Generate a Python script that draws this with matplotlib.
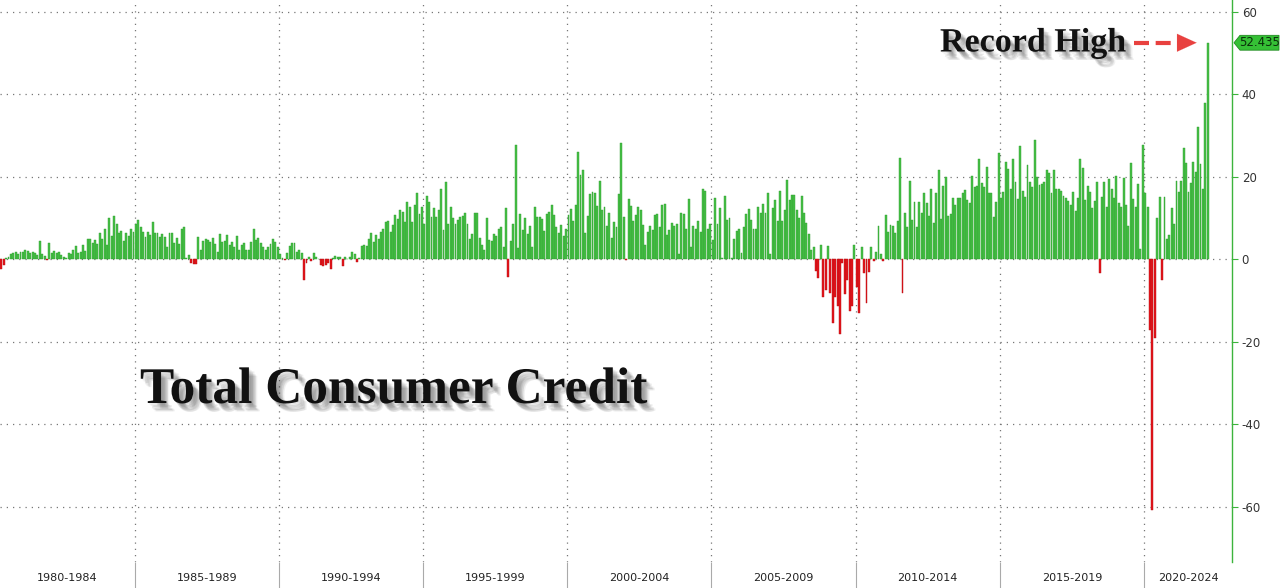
import matplotlib
matplotlib.use('Agg')
import matplotlib.pyplot as plt
import matplotlib.patheffects as pe
import matplotlib.transforms as mtransforms
from matplotlib.patches import Polygon
import numpy as np

# monthly change in total consumer credit ($bn), Jan 1980 .. Mar 2022
credit_1980_84 = [-1.2, -1.8, -2.4, -2.5, -2.5, -1.5, 0.3, 0.6, 1.2, 1.4, 1.6, 1.2,
                  1.8, 1.6, 2.2, 2.0, 1.5, 1.8, 1.4, 1.0, 4.4, 1.2, 0.8, -0.3,
                  3.8, 1.5, 2.0, 1.4, 1.8, 0.9, 0.6, 0.3, 1.4, 1.2, 2.2, 3.2,
                  1.5, 1.8, 3.4, 2.0, 4.8, 4.8, 4.0, 4.6, 3.6, 6.4, 4.8, 7.2,
                  3.4, 9.9, 5.6, 10.4, 8.5, 6.2, 6.9, 4.4, 6.2, 5.6, 7.2, 6.6]
credit_1985_89 = [8.6, 9.4, 7.7, 6.5, 5.4, 6.5, 5.8, 9.0, 6.2, 6.2, 5.4, 6.1,
                  5.4, 2.8, 6.2, 6.2, 3.8, 5.0, 3.6, 7.2, 7.8, 0.2, 1.0, -0.9,
                  -1.2, -1.2, 5.3, 2.2, 4.4, 4.8, 4.6, 4.2, 5.0, 3.6, 1.8, 6.1,
                  4.2, 4.4, 5.8, 3.4, 4.2, 3.0, 5.6, 2.3, 3.4, 3.8, 2.2, 2.2,
                  4.2, 7.2, 4.6, 5.0, 3.8, 3.0, 2.3, 3.0, 3.6, 4.8, 4.2, 3.0]
credit_1990_94 = [1.1, 0.2, -0.2, 1.4, 3.2, 3.8, 4.0, 1.8, 2.3, 1.4, -5.1, -1.0,
                  0.6, -0.5, 1.5, 0.6, 0.1, -1.5, -1.7, -1.5, -1.0, -2.3, 0.2, 0.8,
                  0.5, 0.4, -1.7, 0.4, 0.1, 0.6, 1.8, 1.2, -0.6, 0.3, 3.2, 3.4,
                  3.2, 4.8, 6.2, 4.2, 5.8, 4.8, 6.6, 7.2, 9.0, 9.2, 6.6, 8.2,
                  10.7, 9.7, 12.0, 11.3, 9.0, 13.9, 12.7, 9.0, 13.1, 15.9, 10.8, 12.7]
credit_1995_99 = [8.5, 15.3, 13.9, 10.1, 12.3, 10.1, 12.0, 17.1, 7.0, 18.7, 8.5, 12.5,
                  9.9, 8.5, 9.5, 10.1, 10.4, 11.1, 8.6, 4.8, 6.0, 11.1, 11.1, 5.0,
                  3.4, 2.2, 9.9, 4.6, 4.4, 6.0, 5.6, 7.3, 7.8, 3.0, 12.4, -4.4,
                  4.4, 8.5, 27.6, 2.6, 10.8, 7.0, 9.9, 6.0, 8.1, 3.0, 12.7, 10.3,
                  10.1, 9.6, 6.9, 10.9, 11.3, 13.1, 10.7, 7.8, 6.2, 8.2, 5.6, 7.2]
credit_2000_04 = [10.7, 12.1, 9.3, 13.1, 26.0, 20.4, 21.7, 6.2, 10.4, 15.7, 16.3, 16.1,
                  12.8, 18.9, 12.0, 12.5, 8.0, 11.2, 5.0, 9.0, 7.8, 15.7, 28.2, 10.1,
                  -0.2, 14.5, 12.8, 9.2, 10.7, 12.7, 11.9, 8.2, 3.4, 6.6, 8.0, 7.0,
                  10.7, 10.9, 7.8, 13.1, 13.3, 5.8, 7.0, 8.8, 8.0, 8.6, 1.1, 11.2,
                  10.9, 7.2, 14.5, 3.0, 8.1, 7.2, 9.2, 6.6, 16.9, 16.6, 7.2, 8.5]
credit_2005_09 = [4.6, 14.9, 8.6, 12.4, 0.2, 15.3, 9.5, 10.0, 0.2, 4.8, 6.9, 7.4,
                  1.4, 7.7, 10.8, 12.1, 9.5, 7.4, 7.4, 12.7, 11.1, 13.3, 11.2, 16.1,
                  1.2, 12.3, 14.3, 9.3, 16.5, 9.2, 12.0, 19.2, 14.3, 15.5, 15.5, 12.0,
                  9.9, 15.3, 11.1, 8.8, 6.1, 2.3, 3.0, -2.9, -4.7, 3.4, -9.1, -7.4,
                  3.2, -8.3, -15.6, -9.1, -11.5, -18.2, -1.0, -8.5, -5.1, -12.7, -11.5, 3.4]
credit_2010_14 = [-6.7, -13.2, 3.0, -3.5, -10.7, -3.1, 2.8, -0.4, 1.6, 8.0, 1.1, -0.4,
                  10.7, 6.6, 8.2, 8.0, 6.4, 9.2, 24.4, -8.3, 11.1, 7.7, 18.9, 9.5,
                  13.9, 7.7, 13.9, 11.1, 15.9, 13.5, 10.4, 17.1, 8.8, 16.1, 21.6, 9.6,
                  17.7, 19.8, 10.4, 10.9, 14.9, 13.1, 14.9, 14.9, 15.9, 16.7, 14.3, 13.7,
                  20.1, 17.5, 17.7, 24.2, 18.5, 17.5, 22.4, 16.1, 16.1, 10.1, 13.9, 25.8]
credit_2015_19 = [14.7, 16.3, 23.6, 21.8, 16.9, 24.2, 18.7, 14.5, 27.5, 16.5, 15.1, 22.8,
                  18.6, 17.4, 28.8, 20.0, 18.0, 18.3, 18.7, 21.6, 20.8, 15.9, 21.7, 17.1,
                  16.9, 16.6, 15.4, 14.7, 14.1, 13.1, 16.2, 11.7, 14.7, 24.2, 22.0, 14.3,
                  17.7, 16.3, 12.4, 14.1, 18.6, -3.3, 15.0, 18.7, 12.5, 19.3, 16.9, 14.9,
                  20.1, 13.7, 12.6, 19.6, 13.0, 8.0, 23.3, 14.5, 12.6, 18.2, 2.4, 27.6]
credit_2020_22 = [16.0, 12.6, -17.2, -60.8, -19.2, 10.0, 15.0, -5.0, 15.0, 4.9, 5.8, 12.4,
                  8.5, 19.0, 16.3, 19.0, 27.0, 23.3, 16.3, 18.4, 23.5, 21.0, 32.0, 23.0,
                  17.0, 37.8, 52.435]

period_labels = ['1980-1984', '1985-1989', '1990-1994', '1995-1999',
                 '2000-2004', '2005-2009', '2010-2014', '2015-2019', '2020-2024']
period_starts = [1980, 1985, 1990, 1995, 2000, 2005, 2010, 2015, 2020]
y_ticks = [-60, -40, -20, 0, 20, 40, 60]

credit = np.array(credit_1980_84 + credit_1985_89 + credit_1990_94 + credit_1995_99
                  + credit_2000_04 + credit_2005_09 + credit_2010_14 + credit_2015_19
                  + credit_2020_22)
months = np.arange(len(credit))
xs = 1980 + (months + 0.5) / 12.0

green = '#46c046'
green_edge = '#2e9c2e'
red = '#e5161c'
red_edge = '#b30c10'

fig = plt.figure(figsize=(12.8, 5.88), dpi=100)
ax = fig.add_axes([0, 26 / 588, 1232 / 1280, 562 / 588])

face = [green if v >= 0 else red for v in credit]
edge = [green_edge if v >= 0 else red_edge for v in credit]
ax.bar(xs, credit, width=0.8 / 12, color=face, edgecolor=edge, linewidth=0.3, zorder=3)

x_left, x_right = 1980.33, 2023.05
ax.set_xlim(x_left, x_right)
ax.set_ylim(-73.45, 62.8)

# right hand value axis
ax.yaxis.tick_right()
ax.set_yticks(y_ticks)
ax.set_yticklabels([str(t) for t in y_ticks])
ax.tick_params(axis='y', which='major', length=4, width=0.8, color='#3cb43c',
               labelcolor='#333333', labelsize=8.5, pad=3)

# period separators as major ticks, period names as minor ticks
ax.set_xticks(period_starts[1:])
ax.set_xticklabels([])
bounds = [x_left] + period_starts[1:] + [x_right]
centers = [(a + b) / 2 for a, b in zip(bounds[:-1], bounds[1:])]
ax.set_xticks(centers, minor=True)
ax.set_xticklabels(period_labels, minor=True)
ax.tick_params(axis='x', which='major', length=19, width=0.8, color='#aaaaaa', direction='out')
ax.tick_params(axis='x', which='minor', length=0, labelsize=8, labelcolor='#222222', pad=8)

ax.grid(axis='both', which='major', linestyle=(0, (1, 4)), color='#777777', linewidth=0.9, zorder=0)
ax.set_axisbelow(True)

for s in ['top', 'left', 'bottom']:
    ax.spines[s].set_visible(False)
ax.spines['right'].set_color('#3cb43c')
ax.spines['right'].set_linewidth(1.0)

# soft shadow: many faint offset copies
shadow = []
for d in [(1, -1), (2, -2), (3, -3), (4, -3), (3, -4), (4, -5), (5, -5), (5, -6), (6, -6)]:
    shadow.append(pe.SimplePatchShadow(offset=d, shadow_rgbFace='#333333', alpha=0.07))
shadow.append(pe.Normal())

fig.text(140 / 1280, (588 - 391) / 588, 'Total Consumer Credit', family='Liberation Serif',
         weight='bold', fontsize=37, color='#111111', va='center', ha='left',
         path_effects=shadow)
fig.text(940 / 1280, (588 - 43) / 588, 'Record High', family='Liberation Serif',
         weight='bold', fontsize=24.5, color='#111111', va='center', ha='left',
         path_effects=shadow)

# dashed arrow toward the last bar
last_val = credit[-1]
arrow_red = '#e8413f'
ax.plot([2019.66, 2021.55], [last_val, last_val], color=arrow_red, lw=3.0,
        dashes=(3.6, 1.6), solid_capstyle='butt', zorder=5, clip_on=False)
ax.annotate('', xy=(2021.92, last_val), xytext=(2021.5, last_val),
            arrowprops=dict(arrowstyle='-|>,head_width=0.32,head_length=0.7',
                            color=arrow_red, lw=0.1, mutation_scale=20), zorder=5)

# value tag on the axis
trans = mtransforms.blended_transform_factory(fig.transFigure, ax.transData)
x0, x1, x2 = 1234 / 1280, 1240 / 1280, 1279 / 1280
h = 1.8
tag = Polygon([[x0, last_val], [x1, last_val + h], [x2, last_val + h],
               [x2, last_val - h], [x1, last_val - h]], closed=True,
              facecolor='#35c035', edgecolor='#228b22', linewidth=0.6,
              transform=trans, clip_on=False, zorder=6)
fig.add_artist(tag)
fig.text(1259.5 / 1280, last_val, f'{last_val:.3f}', transform=trans, fontsize=8.5,
         color='#0a2e0a', ha='center', va='center', zorder=7)

fig.savefig('out.png', dpi=100)
